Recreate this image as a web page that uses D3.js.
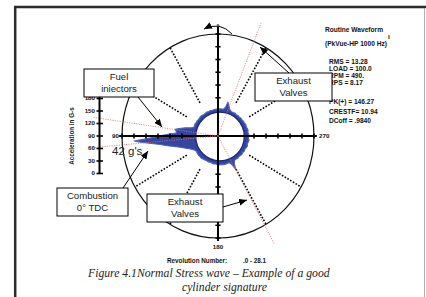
<!DOCTYPE html>
<html><head><meta charset="utf-8">
<script src="https://cdn.jsdelivr.net/npm/d3@7"></script>
<style>body{margin:0;background:#fff}svg{display:block}</style>
</head><body>
<script>
// ---------- data ----------
const waveAngles = [0,4,8,12,16,20,24,28,32,36,40,44,48,52,56,60,64,68,
  70,73,76,79,81,83,85.5,88,90.4,92,93,94,95.5,97.6,100,102,104,107,110,113,116,119,123,
  127,131,135,139,143,147,151,155,159,163,167,171,175,179,183,187,191,195,199,
  201,203,204,205.5,208,211,
  215,219,223,227,231,235,239,243,247,251,255,259,263,267,271,275,279,283,287,291,295,299,303,307,311,315,319,323,327,331,335,
  339,342,344.5,347,349,352,356];
const waveG = [2.5,2.3,2.6,2.4,2.2,2.5,2.3,2.6,2.4,2.2,2.5,2.7,2.4,2.3,2.6,2.4,2.7,2.5,
  2.4,4,8,12,14.6,13.6,13.5,20,27.8,35,42,38,32,24.7,20,16,13,10,7.5,5.5,4,3,2.7,
  2.9,3.1,2.9,3.2,2.9,2.7,2.5,2.7,2.4,2.6,2.8,2.6,2.9,3.0,2.8,3.0,2.9,2.7,2.6,
  3.2,4.5,6,8.6,4.5,2.8,
  2.5,2.8,2.4,2.7,2.9,2.6,3.0,2.7,3.1,3.4,2.9,3.3,3.6,3.0,3.4,3.2,2.8,3.3,3.0,2.7,3.1,2.6,2.8,2.4,2.6,2.3,2.5,2.2,2.6,2.4,2.3,
  2.8,4.2,6,7.7,4.2,2.6,2.4];
const spokeAngles = [30,60,120,150,210,240,300,330];
const markerAngles = [82,95,209,338];
const axisAngles = [0,90,180,270];
const axisLabels = ["0","90","180","270"];
const yTicks = [0,30,60,90,120,150,180];
const headerLines = ["Routine Waveform","(PkVue-HP 1000 Hz)"];
const statLinesA = ["RMS = 13.28","LOAD = 100.0","RPM = 490.","RPS = 8.17"];
const statLinesB = ["PK(+) = 146.27","CRESTF= 10.94","DCoff = .9840"];
const revLabel = "Revolution Number:", revRange = ".0 - 28.1";
const peakLabel = "42 g's";
const yTitle = "Acceleration in G-s";
const caption = ["Figure 4.1Normal Stress wave \u2013 Example of a good","cylinder signature"];

// ---------- setup ----------
const W = 426, H = 297;
const SANS = "'Liberation Sans', Arial, sans-serif";
const svg = d3.select("body").append("svg").attr("width", W).attr("height", H);
const defs = svg.append("defs");
defs.append("marker").attr("id","ah").attr("markerUnits","userSpaceOnUse")
  .attr("markerWidth",8).attr("markerHeight",7).attr("refX",8).attr("refY",3.5).attr("orient","auto")
  .append("path").attr("d","M0,0L8,3.5L0,7Z").attr("fill","#000");

// frame
svg.append("line").attr("x1",14).attr("y1",7).attr("x2",426).attr("y2",7).attr("stroke","#2b2b2b").attr("stroke-width",2.5);
svg.append("line").attr("x1",15.2).attr("y1",6).attr("x2",15.2).attr("y2",H).attr("stroke","#2b2b2b").attr("stroke-width",2.5);
svg.append("line").attr("x1",424.5).attr("y1",8).attr("x2",424.5).attr("y2",H).attr("stroke","#b0b0b0").attr("stroke-width",1);

// polar geometry
const cx = 218, cy = 136, R = 96, ky = 102/96;
const wcx = 220, wcy = 136.5;
const rAxis = d3.scaleLinear().domain([0,8]).range([0,R]);
const rWave = d3.scaleLinear().domain([0,42]).range([24,86]);
const pt = (a, r) => { const t = a*Math.PI/180; return [cx - r*Math.sin(t), cy - r*Math.cos(t)*ky]; };
const wpt = (a, r) => { const t = a*Math.PI/180; return [wcx - r*Math.sin(t), wcy - r*Math.cos(t)]; };

// outer ring
svg.append("ellipse").attr("cx",cx).attr("cy",cy).attr("rx",R).attr("ry",R*ky)
  .attr("fill","none").attr("stroke","#111").attr("stroke-width",1.2);

// dotted spokes
svg.append("g").selectAll("line").data(spokeAngles).join("line")
  .attr("x1",d=>pt(d,rAxis(3))[0]).attr("y1",d=>pt(d,rAxis(3))[1])
  .attr("x2",d=>pt(d,R)[0]).attr("y2",d=>pt(d,R)[1])
  .attr("stroke","#000").attr("stroke-width",1.6).attr("stroke-dasharray","1.6,1.6");

// waveform (filled envelope, hollow centre)
const wave = waveAngles.map((a,i)=>({a, g: waveG[i]}));
const wline = d3.line().x(d=>wpt(d.a, rWave(d.g))[0]).y(d=>wpt(d.a, rWave(d.g))[1]).curve(d3.curveLinearClosed);
svg.append("path").datum(wave).attr("d",wline)
  .attr("fill","#34469e").attr("stroke","#5264b8").attr("stroke-width",1.1).attr("stroke-linejoin","round");
svg.append("circle").attr("cx",wcx).attr("cy",wcy).attr("r",rWave(0)+0.3)
  .attr("fill","#fff").attr("stroke","#1c2870").attr("stroke-width",1.3);

// axes
const axisLen = a => a===0 ? R*1.07 : R*1.03;
svg.append("g").selectAll("line").data(axisAngles).join("line")
  .attr("x1",cx).attr("y1",cy)
  .attr("x2",d=>pt(d,axisLen(d))[0]).attr("y2",d=>pt(d,axisLen(d))[1])
  .attr("stroke","#000").attr("stroke-width",2);
const tickData = [];
axisAngles.forEach(a => d3.range(3,9).forEach(k => tickData.push({a,k})));
svg.append("g").selectAll("line").data(tickData).join("line")
  .each(function(d){
    const [x,y] = pt(d.a, rAxis(d.k));
    const vert = (d.a===90||d.a===270);
    d3.select(this).attr("x1",vert?x:x-2.6).attr("x2",vert?x:x+2.6)
      .attr("y1",vert?y-2.6:y).attr("y2",vert?y+2.6:y);
  }).attr("stroke","#000").attr("stroke-width",1.6);

// axis angle labels
const lab = svg.append("g").attr("font-family",SANS).attr("font-weight","bold").attr("fill","#111");
lab.append("text").text(axisLabels[1]).attr("x",pt(90,R)[0]-3).attr("y",cy+2.2).attr("text-anchor","end").attr("font-size",6.2);
lab.append("text").text(axisLabels[3]).attr("x",pt(270,R)[0]+5).attr("y",cy+2.2).attr("font-size",6.2);
lab.append("text").text(axisLabels[2]).attr("x",cx).attr("y",pt(180,R)[1]+10.5).attr("text-anchor","middle").attr("font-size",6.2);
lab.append("text").text(axisLabels[0]).attr("x",cx).attr("y",pt(0,R)[1]-6).attr("text-anchor","middle").attr("font-size",4.5);

// red marker lines
const markLen = a => Math.abs(Math.sin(a*Math.PI/180))>0.9 ? 126 : 116;
svg.append("g").selectAll("line").data(markerAngles).join("line")
  .attr("x1",cx).attr("y1",cy)
  .attr("x2",d=>pt(d,markLen(d))[0]).attr("y2",d=>pt(d,markLen(d))[1])
  .attr("stroke","#ee6b6b").attr("stroke-width",0.8).attr("stroke-dasharray","1.2,1.2");

// left acceleration axis
const y = d3.scaleLinear().domain([0,180]).range([173,98]);
const ax = svg.append("g").attr("transform","translate(99.5,0)").call(d3.axisLeft(y).tickValues(yTicks).tickSize(0).tickPadding(4.5));
ax.select(".domain").attr("stroke","#000").attr("stroke-width",2).attr("d","M0,"+y(0)+"V"+(y(180)-1));
ax.selectAll(".tick text").attr("font-family",SANS).attr("font-weight","bold").attr("font-size",6.2).attr("fill","#111");
ax.selectAll(".tick").append("line").attr("x1",-3).attr("x2",3.5).attr("stroke","#000").attr("stroke-width",1.6);
svg.append("text").text(yTitle).attr("transform","translate(74,136) rotate(-90)")
  .attr("text-anchor","middle").attr("font-family",SANS).attr("font-weight","bold").attr("font-size",6.3).attr("fill","#222");

// stats block
const st = svg.append("g").attr("font-family",SANS).attr("font-weight","bold").attr("font-size",6.6).attr("fill","#111");
st.selectAll("text.h").data(headerLines).join("text").attr("class","h").text(d=>d)
  .attr("x",325).attr("y",(d,i)=>31.5+i*14);
st.append("text").text("\u0131").attr("x",388).attr("y",38.5);
st.selectAll("text.a").data(statLinesA).join("text").attr("class","a").text(d=>d)
  .attr("x",329).attr("y",(d,i)=>64+i*7);
st.selectAll("text.b").data(statLinesB).join("text").attr("class","b").text(d=>d)
  .attr("x",329).attr("y",(d,i)=>104+i*9.5);

// revolution
const rv = svg.append("g").attr("font-family",SANS).attr("font-weight","bold").attr("font-size",6.3).attr("fill","#111");
rv.append("text").text(revLabel).attr("x",167).attr("y",262.5);
rv.append("text").text(revRange).attr("x",243).attr("y",262.5);

// annotation boxes
const boxes = [
  {x:84,y:69,w:70,h:28,t:["Fuel","iniectors"]},
  {x:255,y:73,w:77,h:28,t:["Exhaust","Valves"]},
  {x:57,y:188,w:71,h:28,t:["Combustion","0\u00b0 TDC"]},
  {x:147,y:194,w:76,h:28,t:["Exhaust","Valves"]}
];
const bg = svg.append("g");
boxes.forEach(b=>{
  bg.append("rect").attr("x",b.x).attr("y",b.y).attr("width",b.w).attr("height",b.h)
    .attr("fill","#fff").attr("stroke","#000").attr("stroke-width",1);
  b.t.forEach((s,i)=>bg.append("text").text(s).attr("x",b.x+b.w/2).attr("y",b.y+11+i*12)
    .attr("text-anchor","middle").attr("font-family",SANS).attr("font-size",9.6).attr("fill","#222"));
});

// arrows
const arrows = [[138,97,162,127],[123,188,148,151],[289,73,260,47],[223,207,247,200]];
svg.append("g").selectAll("line").data(arrows).join("line")
  .attr("x1",d=>d[0]).attr("y1",d=>d[1]).attr("x2",d=>d[2]).attr("y2",d=>d[3])
  .attr("stroke","#000").attr("stroke-width",1).attr("marker-end","url(#ah)");
svg.append("path").attr("d","M232,34 Q220,21 204,29").attr("fill","none")
  .attr("stroke","#000").attr("stroke-width",1).attr("marker-end","url(#ah)");

svg.append("text").text(peakLabel).attr("x",112).attr("y",155).attr("font-family",SANS)
  .attr("font-size",11.5).attr("fill","#222");

// caption
const cap = svg.append("g").attr("font-family","'Liberation Serif','Times New Roman',serif").attr("font-style","italic").attr("font-size",11.7).attr("fill","#222");
cap.append("text").text(caption[0]).attr("x",88).attr("y",277);
cap.append("text").text(caption[1]).attr("x",182).attr("y",291);
</script>
</body></html>
